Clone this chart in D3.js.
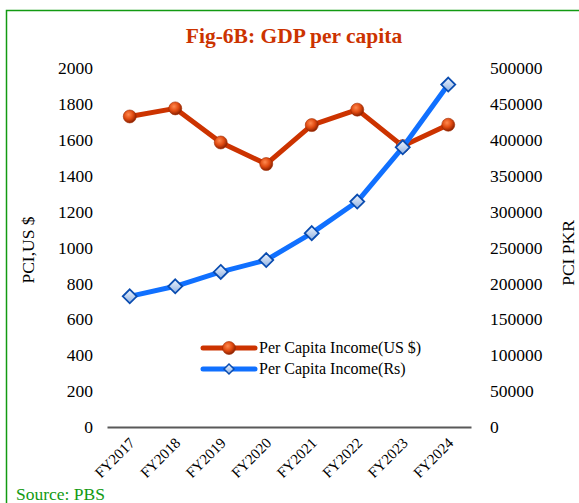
<!DOCTYPE html>
<html>
<head>
<meta charset="utf-8">
<script src="https://cdn.jsdelivr.net/npm/d3@7"></script>
<style>
  body { margin: 0; background: #fff; }
  svg { display: block; font-family: "Liberation Serif", "Times New Roman", serif; }
</style>
</head>
<body>
<svg id="chart" width="579" height="503"></svg>
<script>
const years = ['FY2017', 'FY2018', 'FY2019', 'FY2020', 'FY2021', 'FY2022', 'FY2023', 'FY2024'];
const pciUsd = [1730, 1775, 1585, 1465, 1682, 1768, 1565, 1684];
const pciPkr = [182000, 196000, 216000, 232500, 270000, 314000, 389500, 477000];
const leftTicks = [0, 200, 400, 600, 800, 1000, 1200, 1400, 1600, 1800, 2000];
const rightTicks = [0, 50000, 100000, 150000, 200000, 250000, 300000, 350000, 400000, 450000, 500000];

const RED = '#cc3300';
const BLUE = '#1070ff';
const GREEN = '#129a12';

const svg = d3.select('#chart');

// outer frame
svg.append('rect')
  .attr('x', 6.5).attr('y', 10.5)
  .attr('width', 620).attr('height', 600)
  .attr('fill', 'none')
  .attr('stroke', GREEN)
  .attr('stroke-width', 1.5);

const defs = svg.append('defs');
const ball = defs.append('radialGradient')
  .attr('id', 'ball').attr('cx', '40%').attr('cy', '35%').attr('r', '65%');
ball.append('stop').attr('offset', '0%').attr('stop-color', '#ff8a50');
ball.append('stop').attr('offset', '55%').attr('stop-color', '#e04a10');
ball.append('stop').attr('offset', '100%').attr('stop-color', '#8a2000');

const gem = defs.append('linearGradient')
  .attr('id', 'gem').attr('x1', '0%').attr('y1', '0%').attr('x2', '0%').attr('y2', '100%');
gem.append('stop').attr('offset', '0%').attr('stop-color', '#f0f6ff');
gem.append('stop').attr('offset', '100%').attr('stop-color', '#8fb0e0');

const x = d3.scaleBand().domain(years).range([107, 471]);
const yL = d3.scaleLinear().domain([0, 2000]).range([427, 68]);
const yR = d3.scaleLinear().domain([0, 500000]).range([427, 68]);
const cx = d => x(d) + x.bandwidth() / 2;

// title
svg.append('text')
  .attr('x', 294).attr('y', 43)
  .attr('text-anchor', 'middle')
  .attr('font-size', 21.5).attr('font-weight', 'bold')
  .attr('fill', RED)
  .text('Fig-6B: GDP per capita');

// left axis
const axL = svg.append('g')
  .attr('transform', 'translate(107,0)')
  .call(d3.axisLeft(yL).tickValues(leftTicks).tickSize(0).tickPadding(14).tickFormat(d3.format('d')));
axL.select('.domain').remove();
axL.selectAll('text').attr('font-size', 17.5).attr('font-family', 'Liberation Serif').attr('fill', '#000');

// right axis
const axR = svg.append('g')
  .attr('transform', 'translate(471,0)')
  .call(d3.axisRight(yR).tickValues(rightTicks).tickSize(0).tickPadding(19).tickFormat(d3.format('d')));
axR.select('.domain').remove();
axR.selectAll('text').attr('font-size', 17.5).attr('font-family', 'Liberation Serif').attr('fill', '#000');

// x axis
const axX = svg.append('g')
  .attr('transform', 'translate(0,427)')
  .call(d3.axisBottom(x).tickSize(0).tickPadding(0));
axX.select('.domain').attr('stroke', '#595959').attr('stroke-width', 2);
axX.selectAll('text')
  .attr('font-size', 15).attr('font-family', 'Liberation Serif').attr('fill', '#000')
  .attr('text-anchor', 'end')
  .attr('dy', 0)
  .attr('transform', 'translate(6,17) rotate(-45)');

// axis titles
svg.append('text')
  .attr('transform', 'translate(34,250) rotate(-90)')
  .attr('text-anchor', 'middle').attr('font-size', 17.5)
  .text('PCI,US $');
svg.append('text')
  .attr('transform', 'translate(574,253) rotate(-90)')
  .attr('text-anchor', 'middle').attr('font-size', 17.5)
  .text('PCI PKR');

// lines
const lineL = d3.line().x((d, i) => cx(years[i])).y(d => yL(d));
const lineR = d3.line().x((d, i) => cx(years[i])).y(d => yR(d));

svg.append('path').datum(pciUsd)
  .attr('d', lineL).attr('fill', 'none')
  .attr('stroke', RED).attr('stroke-width', 5).attr('stroke-linejoin', 'round');

svg.selectAll('.dot').data(pciUsd).enter().append('circle')
  .attr('cx', (d, i) => cx(years[i])).attr('cy', d => yL(d))
  .attr('r', 6.5).attr('fill', 'url(#ball)').attr('stroke', '#a02a00').attr('stroke-width', 0.6);

svg.append('path').datum(pciPkr)
  .attr('d', lineR).attr('fill', 'none')
  .attr('stroke', BLUE).attr('stroke-width', 5).attr('stroke-linejoin', 'round');

const diamond = s => `M0,${-s}L${s},0L0,${s}L${-s},0Z`;
svg.selectAll('.gem').data(pciPkr).enter().append('path')
  .attr('d', diamond(7))
  .attr('transform', (d, i) => `translate(${cx(years[i])},${yR(d)})`)
  .attr('fill', 'url(#gem)').attr('stroke', '#0a4cb0').attr('stroke-width', 1.8);

// legend
const lg = svg.append('g').attr('transform', 'translate(203,0)');
lg.append('line').attr('x1', 0).attr('x2', 52).attr('y1', 348).attr('y2', 348)
  .attr('stroke', RED).attr('stroke-width', 5).attr('stroke-linecap', 'round');
lg.append('circle').attr('cx', 26).attr('cy', 348).attr('r', 6.5)
  .attr('fill', 'url(#ball)').attr('stroke', '#a02a00').attr('stroke-width', 0.6);
lg.append('text').attr('x', 56).attr('y', 353).attr('font-size', 16).text('Per Capita Income(US $)');

lg.append('line').attr('x1', 0).attr('x2', 52).attr('y1', 369).attr('y2', 369)
  .attr('stroke', BLUE).attr('stroke-width', 5).attr('stroke-linecap', 'round');
lg.append('path').attr('d', diamond(5)).attr('transform', 'translate(26,369)')
  .attr('fill', 'url(#gem)').attr('stroke', '#0a4cb0').attr('stroke-width', 1.5);
lg.append('text').attr('x', 56).attr('y', 374).attr('font-size', 16).text('Per Capita Income(Rs)');

// source
svg.append('text')
  .attr('x', 16).attr('y', 500)
  .attr('font-size', 17.5).attr('fill', GREEN)
  .text('Source: PBS');
</script>
</body>
</html>
